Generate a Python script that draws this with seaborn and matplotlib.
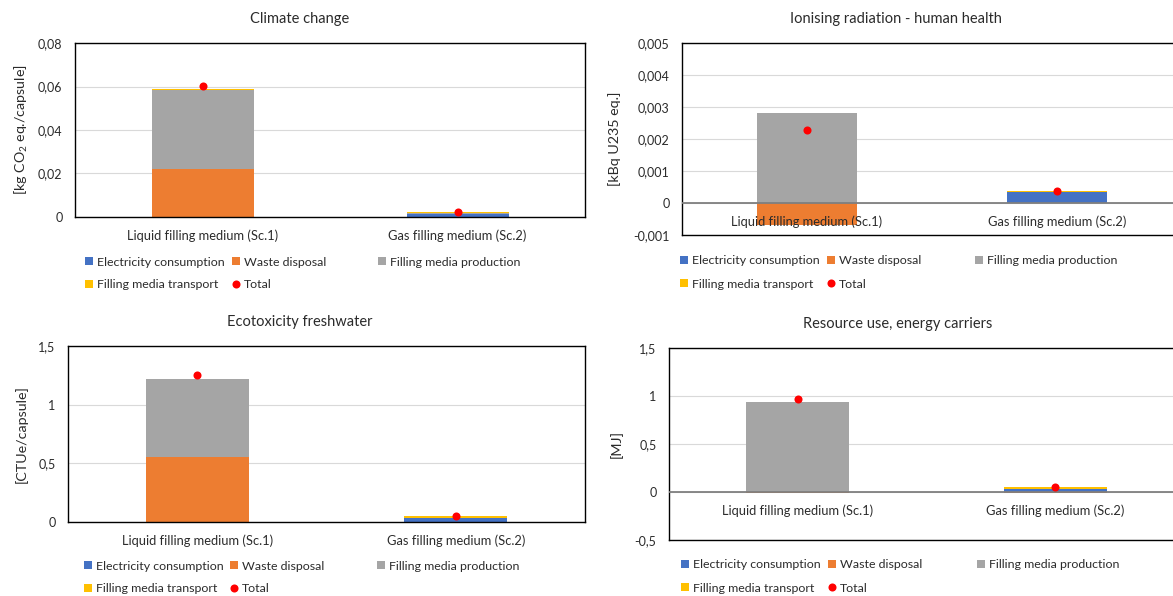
import numpy as np
import matplotlib
matplotlib.use('Agg')
import matplotlib.pyplot as plt
from matplotlib.lines import Line2D
import seaborn as sns

#%% data
categories = ["Liquid filling medium (Sc.1)", "Gas filling medium (Sc.2)"]
series_names = ["Electricity consumption", "Waste disposal",
                "Filling media production", "Filling media transport"]
series_colors = ["#4472C4", "#ED7D31", "#A5A5A5", "#FFC000"]

# Climate change [kg CO2 eq./capsule]
cc_elec = [0.0, 0.0013]
cc_waste = [0.0221, 0.0]
cc_prod = [0.0362, 0.0004]
cc_transport = [0.0004, 0.0006]
cc_total = [0.0602, 0.0025]
cc_ticks = [0, 0.02, 0.04, 0.06, 0.08]
cc_ticklabels = ["0", "0,02", "0,04", "0,06", "0,08"]

# Ionising radiation [kBq U235 eq.]
ir_elec = [0.0, 0.00034]
ir_waste = [-0.0007, 0.0]
ir_prod = [0.0028, 0.0]
ir_transport = [0.0, 0.00003]
ir_total = [0.00227, 0.00037]
ir_ticks = [-0.001, 0, 0.001, 0.002, 0.003, 0.004, 0.005]
ir_ticklabels = ["-0,001", "0", "0,001", "0,002", "0,003", "0,004", "0,005"]

# Ecotoxicity freshwater [CTUe/capsule]
eco_elec = [0.0, 0.037]
eco_waste = [0.551, 0.0]
eco_prod = [0.671, 0.0]
eco_transport = [0.0, 0.014]
eco_total = [1.253, 0.053]
eco_ticks = [0, 0.5, 1, 1.5]
eco_ticklabels = ["0", "0,5", "1", "1,5"]

# Resource use, energy carriers [MJ]
ru_elec = [0.0, 0.03]
ru_waste = [-0.014, -0.01]
ru_prod = [0.94, 0.005]
ru_transport = [0.0, 0.015]
ru_total = [0.968, 0.05]
ru_ticks = [-0.5, 0, 0.5, 1, 1.5]
ru_ticklabels = ["-0,5", "0", "0,5", "1", "1,5"]

#%% style
sns.set_style('white')
plt.rcParams['font.family'] = ['Lato', 'DejaVu Sans']
plt.rcParams['mathtext.fontset'] = 'custom'
plt.rcParams['mathtext.rm'] = 'Lato'
plt.rcParams['mathtext.it'] = 'Lato:italic'
txt_color = '#2b2b2b'

W, H = 1173, 596
fig = plt.figure(figsize=(W / 100, H / 100), dpi=100)


def px_rect(l, t, r, b):
    return [l / W, 1 - b / H, (r - l) / W, (b - t) / H]


def draw_panel(box, title, title_xy, ylabel, ylabel_x, parts, total,
               ticks, ticklabels, zero_line, leg_cols, leg_rows):
    l, t, r, b = box
    ax = fig.add_axes(px_rect(l, t, r, b))

    # excel style stacking: positives on positives, negatives on negatives
    pos = np.zeros(len(categories))
    neg = np.zeros(len(categories))
    for vals, color in zip(parts, series_colors):
        v = np.array(vals)
        bottom = np.where(v >= 0, pos, neg)
        sns.barplot(x=categories, y=v, bottom=bottom, color=color, width=0.4,
                    saturation=1, linewidth=0, errorbar=None, ax=ax, zorder=2)
        pos = pos + np.where(v > 0, v, 0)
        neg = neg + np.where(v < 0, v, 0)

    sns.stripplot(x=categories, y=total, color='#FF0000', size=5.8,
                  jitter=False, linewidth=0, ax=ax, zorder=5)

    ax.set_xlim(-0.5, 1.5)
    ax.set_ylim(ticks[0], ticks[-1])
    ax.set_yticks(ticks)
    ax.set_yticklabels(ticklabels, fontsize=9, color=txt_color)
    ax.tick_params(axis='y', length=0, pad=9)
    ax.set_xticks([])
    ax.set_xlabel('')
    ax.grid(axis='y', color='#D9D9D9', linewidth=0.8)
    ax.set_axisbelow(True)
    for s in ax.spines.values():
        s.set_color('black')
        s.set_linewidth(1)
    if zero_line:
        ax.axhline(0, color='#7F7F7F', linewidth=1.3, zorder=3)

    # category labels sit just under the zero line
    for i, cat in enumerate(categories):
        ax.annotate(cat, xy=(i, 0), xytext=(0, -13.5), textcoords='offset points',
                    ha='center', va='center', fontsize=9.3, color=txt_color,
                    zorder=6)

    ax.set_ylabel(ylabel, fontsize=10.3, color=txt_color, va='center')
    ax.yaxis.set_label_coords((ylabel_x - l) / (r - l), 0.5)

    fig.text(title_xy[0] / W, 1 - title_xy[1] / H, title, ha='center',
             va='center', fontsize=10.5, color=txt_color)

    # legend laid out like excel: 3 equal columns, 2 rows
    handles = [Line2D([], [], marker='s', linestyle='none', markersize=5.4,
                      markerfacecolor=c, markeredgewidth=0) for c in series_colors]
    handles.append(Line2D([], [], marker='o', linestyle='none', markersize=5.8,
                          markerfacecolor='#FF0000', markeredgewidth=0))
    labels = series_names + ['Total']
    cells = [(0, 0), (1, 0), (2, 0), (0, 1), (1, 1)]
    for h, lab, (ci, ri) in zip(handles, labels, cells):
        fig.legend([h], [lab], loc='center left',
                   bbox_to_anchor=(leg_cols[ci] / W, 1 - leg_rows[ri] / H),
                   frameon=False, fontsize=8.9, handlelength=0.75,
                   handletextpad=0.3, borderpad=0, borderaxespad=0,
                   labelcolor=txt_color)
    return ax


draw_panel((75, 43, 585, 217), 'Climate change', (300, 19),
           r'[kg CO$_2$ eq./capsule]', 21,
           [cc_elec, cc_waste, cc_prod, cc_transport], cc_total,
           cc_ticks, cc_ticklabels, False, (84, 231, 377), (262, 285))

draw_panel((682, 43, 1182, 235), 'Ionising radiation - human health', (896, 19),
           '[kBq U235 eq.]', 615,
           [ir_elec, ir_waste, ir_prod, ir_transport], ir_total,
           ir_ticks, ir_ticklabels, True, (679, 826, 974), (261, 284))

draw_panel((68, 346, 585, 522), 'Ecotoxicity freshwater', (300, 322),
           '[CTUe/capsule]', 21,
           [eco_elec, eco_waste, eco_prod, eco_transport], eco_total,
           eco_ticks, eco_ticklabels, False, (83, 229, 376), (566, 589))

draw_panel((669, 348, 1184, 540), 'Resource use, energy carriers', (898, 324),
           '[MJ]', 616,
           [ru_elec, ru_waste, ru_prod, ru_transport], ru_total,
           ru_ticks, ru_ticklabels, True, (680, 827, 976), (565, 588))

fig.savefig('out.png', dpi=100)
